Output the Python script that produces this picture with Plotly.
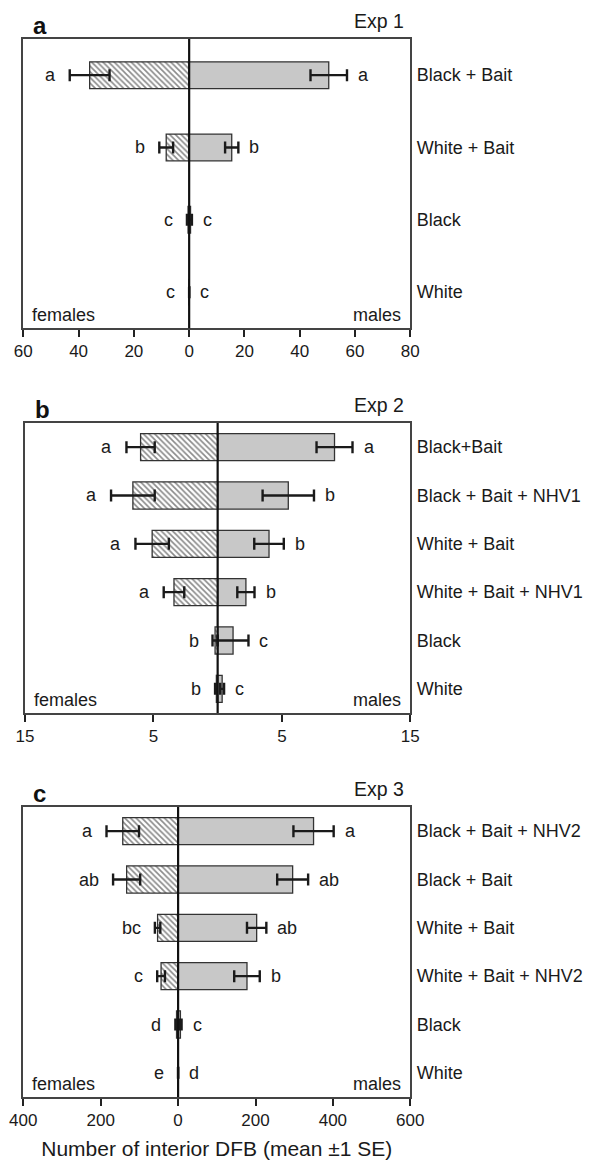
import plotly.graph_objects as go

# ---------------- data ----------------
cats_a = ["Black + Bait", "White + Bait", "Black", "White"]
fem_a = [36.0, 8.3, 0.4, 0.0]
fem_se_a = [7.2, 2.5, 0.4, 0.0]
male_a = [50.5, 15.4, 0.5, 0.0]
male_se_a = [6.6, 2.4, 0.5, 0.0]
let_f_a = ["a", "b", "c", "c"]
let_m_a = ["a", "b", "c", "c"]
ticks_a = [-60, -40, -20, 0, 20, 40, 60, 80]
ticktext_a = ["60", "40", "20", "0", "20", "40", "60", "80"]

cats_b = ["Black+Bait", "Black + Bait + NHV1", "White + Bait",
          "White + Bait + NHV1", "Black", "White"]
fem_b = [6.0, 6.6, 5.1, 3.4, 0.2, 0.1]
fem_se_b = [1.1, 1.7, 1.3, 0.8, 0.2, 0.1]
male_b = [9.1, 5.5, 4.0, 2.2, 1.2, 0.35]
male_se_b = [1.4, 2.0, 1.15, 0.67, 1.2, 0.15]
let_f_b = ["a", "a", "a", "a", "b", "b"]
let_m_b = ["a", "b", "b", "b", "c", "c"]
ticks_b = [-15, -5, 5, 15]
ticktext_b = ["15", "5", "5", "15"]

cats_c = ["Black + Bait + NHV2", "Black + Bait", "White + Bait",
          "White + Bait + NHV2", "Black", "White"]
fem_c = [143, 133, 53, 44, 4, 0]
fem_se_c = [42, 35, 7, 10, 3, 0]
male_c = [350, 296, 203, 178, 6, 0]
male_se_c = [52, 40, 25, 33, 3, 0]
let_f_c = ["a", "ab", "bc", "c", "d", "e"]
let_m_c = ["a", "ab", "ab", "b", "c", "d"]
ticks_c = [-400, -200, 0, 200, 400, 600]
ticktext_c = ["400", "200", "0", "200", "400", "600"]

panels = [
    dict(cats=cats_a, f=fem_a, fse=fem_se_a, m=male_a, mse=male_se_a,
         lf=let_f_a, lm=let_m_a, tv=ticks_a, tt=ticktext_a, rng=[-60, 80],
         letter="a", exp="Exp 1", bw=0.37, xd=[23.3, 410.3], yd=[39, 328.3]),
    dict(cats=cats_b, f=fem_b, fse=fem_se_b, m=male_b, mse=male_se_b,
         lf=let_f_b, lm=let_m_b, tv=ticks_b, tt=ticktext_b, rng=[-15, 15],
         letter="b", exp="Exp 2", bw=0.56, xd=[25, 410.3], yd=[423, 713]),
    dict(cats=cats_c, f=fem_c, fse=fem_se_c, m=male_c, mse=male_se_c,
         lf=let_f_c, lm=let_m_c, tv=ticks_c, tt=ticktext_c, rng=[-400, 600],
         letter="c", exp="Exp 3", bw=0.56, xd=[23.3, 410.3], yd=[807, 1097]),
]

# the page body adds an 8 px offset; the figure is sized to fill the rest
OFF = 8
W, H = 592 - OFF, 1163 - OFF
FONT = "Liberation Sans, Arial, sans-serif"
TXT = "#1a1a1a"

fig = go.Figure()
layout = dict(
    template="none",
    width=W, height=H, margin=dict(l=0, r=0, t=0, b=0, pad=0, autoexpand=False),
    paper_bgcolor="white", plot_bgcolor="white", showlegend=False,
    barmode="overlay", font=dict(family=FONT, color=TXT, size=17),
)
annotations = []
shapes = []

for i, p in enumerate(panels):
    sfx = "" if i == 0 else str(i + 1)
    xa, ya = "x" + sfx, "y" + sfx
    err = dict(type="data", thickness=2.4, width=6, color="#1a1a1a")
    fig.add_trace(go.Bar(
        y=p["cats"], x=[-v for v in p["f"]], orientation="h", width=p["bw"],
        xaxis=xa, yaxis=ya,
        marker=dict(color="white", line=dict(color="#333333", width=1.3),
                    pattern=dict(shape="\\", fgcolor="#8a8a8a", bgcolor="white",
                                 size=4, solidity=0.4)),
        error_x=dict(array=p["fse"], **err),
    ))
    fig.add_trace(go.Bar(
        y=p["cats"], x=p["m"], orientation="h", width=p["bw"],
        xaxis=xa, yaxis=ya,
        marker=dict(color="#c8c8c8", line=dict(color="#333333", width=1.3)),
        error_x=dict(array=p["mse"], **err),
    ))
    n = len(p["cats"])
    layout["xaxis" + sfx] = dict(
        domain=[(p["xd"][0] - OFF) / W, (p["xd"][1] - OFF) / W], anchor=ya,
        range=p["rng"],
        tickmode="array", tickvals=p["tv"], ticktext=p["tt"],
        ticks="outside", ticklen=7, tickwidth=1.5, tickcolor="#222",
        showline=True, linecolor="#444", linewidth=1.5, mirror=True,
        showgrid=False, zeroline=False, automargin=False,
        tickfont=dict(size=17, color=TXT, family=FONT),
    )
    layout["yaxis" + sfx] = dict(
        domain=[1 - (p["yd"][1] - OFF) / H, 1 - (p["yd"][0] - OFF) / H],
        anchor=xa,
        type="category", categoryorder="array", categoryarray=p["cats"],
        range=[n - 0.5, -0.5], side="right", ticks="",
        showline=True, linecolor="#444", linewidth=1.5, mirror=True,
        showgrid=False, zeroline=False, ticklabelstandoff=1, automargin=False,
        tickfont=dict(size=18, color=TXT, family=FONT),
    )
    # centre line at zero
    shapes.append(dict(type="line", xref=xa, yref=ya + " domain", x0=0, x1=0,
                       y0=0, y1=1, line=dict(color="#111", width=2.2),
                       layer="above"))
    # significance letters
    for c, f, fse, m, mse, lf, lm in zip(p["cats"], p["f"], p["fse"], p["m"],
                                         p["mse"], p["lf"], p["lm"]):
        annotations.append(dict(x=-(f + fse), y=c, xref=xa, yref=ya, text=lf,
                                showarrow=False, xanchor="right", xshift=-12,
                                font=dict(size=18)))
        annotations.append(dict(x=m + mse, y=c, xref=xa, yref=ya, text=lm,
                                showarrow=False, xanchor="left", xshift=9,
                                font=dict(size=18)))
    # females / males labels
    annotations.append(dict(x=0, y=0, xref=xa + " domain", yref=ya + " domain",
                            text="females", showarrow=False, xanchor="left",
                            yanchor="bottom", xshift=7, yshift=1,
                            font=dict(size=18)))
    annotations.append(dict(x=1, y=0, xref=xa + " domain", yref=ya + " domain",
                            text="males", showarrow=False, xanchor="right",
                            yanchor="bottom", xshift=-7, yshift=1,
                            font=dict(size=18)))
    # panel letter and experiment title
    annotations.append(dict(x=0, y=1, xref=xa + " domain", yref=ya + " domain",
                            text="<b>" + p["letter"] + "</b>", showarrow=False,
                            xanchor="left", yanchor="bottom", xshift=8, yshift=-2,
                            font=dict(size=24, color="#111")))
    annotations.append(dict(x=1, y=1, xref=xa + " domain", yref=ya + " domain",
                            text=p["exp"], showarrow=False, xanchor="right",
                            yanchor="bottom", xshift=-4, yshift=5,
                            font=dict(size=19.5)))

layout["xaxis3"]["title"] = dict(text="Number of interior DFB (mean \u00b11 SE)",
                                 font=dict(size=21, color=TXT, family=FONT),
                                 standoff=12)
layout["annotations"] = annotations
layout["shapes"] = shapes
fig.update_layout(**layout)
fig.write_html("out.html")
